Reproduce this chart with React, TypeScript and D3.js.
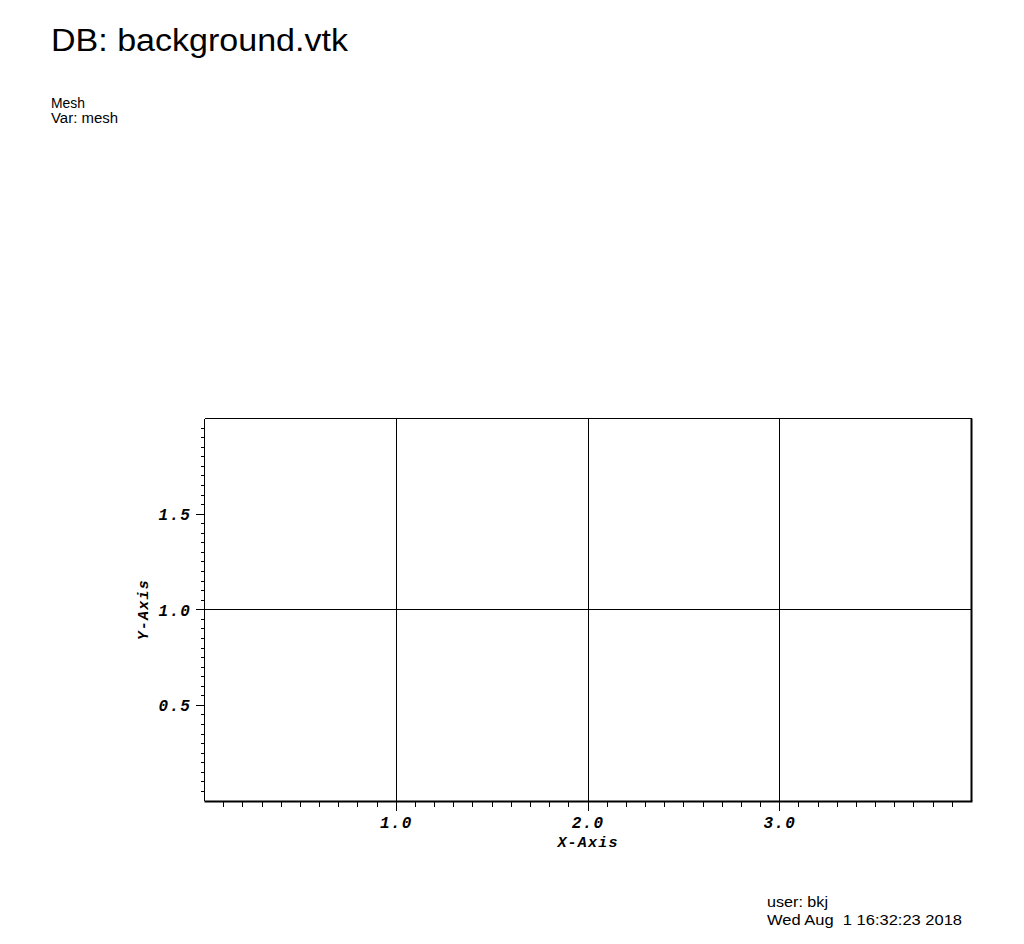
import React from "react";
import * as d3 from "d3";

// mesh node coordinates (4 x 2 cells)
const meshX = [0, 1, 2, 3, 4];
const meshY = [0, 1, 2];
const xLabels = [1, 2, 3];
const yLabels = [0.5, 1, 1.5];
const headLines = ["Mesh", "Var: mesh"];
const infoLines = ["user: bkj", "Wed Aug  1 16:32:23 2018"];

const W = 1024;
const H = 944;

export default function App() {
  const x = d3.scaleLinear().domain([0, 4]).range([204.5, 971.5]);
  const y = d3.scaleLinear().domain([0, 2]).range([801, 418.5]);

  const xMinor = d3.range(1, 40).map((i) => i / 10);
  const yMinor = d3.range(1, 40).map((i) => i / 20);

  const tickFont = {
    fontFamily: "'Liberation Mono', 'DejaVu Sans Mono', monospace",
    fontWeight: "bold" as const,
    fontStyle: "italic" as const,
    fontSize: 16,
    letterSpacing: 1.2,
  };
  const sans = "'Liberation Sans', Arial, sans-serif";
  const headLen = [34, 67];
  const infoLen = [61, 195];

  return (
    <svg
      width={W}
      height={H}
      style={{ position: "absolute", left: 0, top: 0, background: "#fff" }}
    >
      <text x={51} y={51} fontFamily={sans} fontSize={31} fill="#000"
        textLength={297} lengthAdjust="spacingAndGlyphs">
        DB: background.vtk
      </text>
      {headLines.map((t, i) => (
        <text key={t} x={51} y={108 + i * 14.5} fontFamily={sans} fontSize={14}
          textLength={headLen[i]} lengthAdjust="spacingAndGlyphs">
          {t}
        </text>
      ))}

      {/* mesh lines */}
      <g stroke="#000" strokeWidth={1} shapeRendering="crispEdges">
        {meshX.map((v) => (
          <line key={"mx" + v} x1={x(v)} x2={x(v)} y1={y(0)} y2={y(2)} />
        ))}
        {meshY.map((v) => (
          <line key={"my" + v} x1={x(0)} x2={x(4)} y1={y(v)} y2={y(v)} />
        ))}
      </g>
      <line x1={x(4)} x2={x(4)} y1={y(2)} y2={y(0)} stroke="#000" strokeWidth={2} />
      <line x1={x(0)} x2={x(4) + 1} y1={y(0) + 0.5} y2={y(0) + 0.5} stroke="#000" strokeWidth={2} />

      {/* ticks */}
      <g stroke="#000" strokeWidth={1} shapeRendering="crispEdges">
        {xMinor.map((v) => {
          const major = Math.abs(v - Math.round(v)) < 1e-6;
          return (
            <line key={"xt" + v} x1={x(v)} x2={x(v)} y1={y(0)} y2={y(0) + (major ? 10 : 6)} />
          );
        })}
        {yMinor.map((v) => {
          const major = Math.abs(v * 2 - Math.round(v * 2)) < 1e-6;
          return (
            <line key={"yt" + v} x1={x(0) - (major ? 9 : 4)} x2={x(0)} y1={y(v)} y2={y(v)} />
          );
        })}
      </g>

      {xLabels.map((v) => (
        <text key={"xl" + v} x={x(v)} y={828} textAnchor="middle" {...tickFont}>
          {v.toFixed(1)}
        </text>
      ))}
      {yLabels.map((v) => (
        <text key={"yl" + v} x={191} y={y(v) + 6} textAnchor="end" {...tickFont}>
          {v.toFixed(1)}
        </text>
      ))}
      <text x={x(2)} y={847} textAnchor="middle" {...tickFont} fontSize={15}>
        X-Axis
      </text>
      <text
        transform={`translate(148, ${y(1)}) rotate(-90)`}
        textAnchor="middle"
        {...tickFont}
        fontSize={15}
      >
        Y-Axis
      </text>

      {infoLines.map((t, i) => (
        <text key={t} x={767} y={907 + i * 18} fontFamily={sans} fontSize={14}
          style={{ whiteSpace: "pre" }}
          textLength={infoLen[i]} lengthAdjust="spacingAndGlyphs">
          {t}
        </text>
      ))}
    </svg>
  );
}
